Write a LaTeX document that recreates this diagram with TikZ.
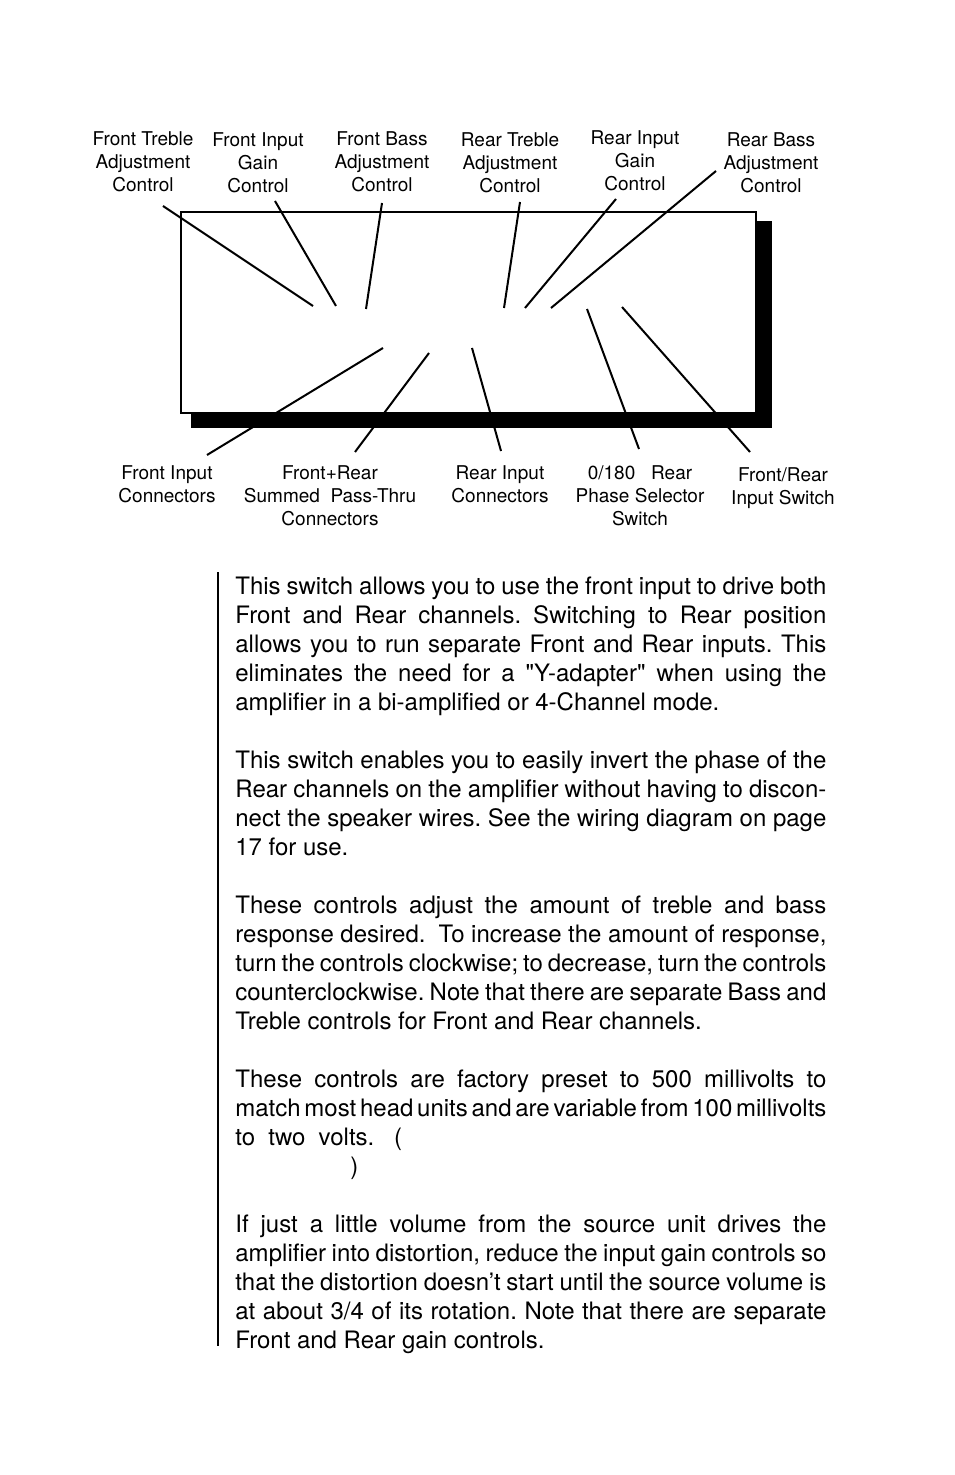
\documentclass[tikz,border=0pt]{standalone}
\usepackage{fontspec}
\setmainfont{TeX Gyre Heros}
\newcommand{\notesetup}{\fontsize{12}{14.5}\selectfont\frenchspacing
  \setlength{\spaceskip}{3.3pt plus 2pt minus 2.2pt}%
  \setlength{\parindent}{0pt}\setlength{\parskip}{14.5pt}}

\begin{document}
\begin{tikzpicture}[x=0.5pt,y=-0.5pt,
    lbl/.style={align=center,inner sep=0pt,anchor=north,font=\fontsize{9.5}{11.5}\selectfont},
    leader/.style={line width=1pt},
    notes/.style={anchor=base west,inner sep=0pt,text width=295.5pt,align=justify,font=\notesetup}]
  \useasboundingbox (0,0) rectangle (954,1475);
  % end panel with its drop shadow
  \fill (191,221) rectangle (772,428);
  \draw[line width=1.2pt,fill=white] (181,212) rectangle (756,413);
  % callout labels
  \foreach \name/\x/\y/\txt in {
      ftreble/143/131/{Front Treble\\Adjustment\\Control},
      fgain/258/132/{Front Input\\Gain\\Control},
      fbass/382/131/{Front Bass\\Adjustment\\Control},
      rtreble/510/132/{Rear Treble\\Adjustment\\Control},
      rgain/635/130/{Rear Input\\Gain\\Control},
      rbass/771/132/{Rear Bass\\Adjustment\\Control},
      finput/167/465/{Front Input\\Connectors},
      fsum/330/465/{Front+Rear\\Summed\ \ Pass-Thru\\Connectors},
      rinput/500/465/{Rear Input\\Connectors},
      phase/640/465/{0/180\ \ \ Rear\\Phase Selector\\Switch},
      fsel/783/467/{Front/Rear\\Input Switch}}
    \node[lbl] (\name) at (\x,\y) {\txt};
  % leader lines
  \foreach \name/\ox/\oy/\ix/\iy in {
      ftreble/163/206/313/306, fgain/275/201/336/306, fbass/382/203/366/309,
      rtreble/520/202/504/308, rgain/616/199/525/308, rbass/716/171/551/308,
      finput/207/455/383/348, fsum/355/452/429/353, rinput/501/451/472/348,
      phase/639/449/587/309, fsel/750/452/622/307}{
    \coordinate (\name-tip) at (\ox,\oy);
    \coordinate (\name-end) at (\ix,\iy);
    \draw[leader] (\name-tip) -- (\name-end);
  }
  % change bar and description text
  \coordinate (bartop) at (218,572);
  \coordinate (barbot) at (218,1346);
  \draw[line width=1.4pt] (bartop) -- (barbot);
  \node[notes] (desc) at (235,594) {%
    This switch allows you to use the front input to drive both\linebreak
    Front and Rear channels. Switching to Rear position\linebreak
    allows you to run separate Front and Rear inputs. This\linebreak
    eliminates the need for a \textquotedbl Y-adapter\textquotedbl\ when using the\linebreak
    amplifier in a bi-amplified or 4-Channel mode.\par
    This switch enables you to easily invert the phase of the\linebreak
    Rear channels on the amplifier without having to discon-\linebreak
    nect the speaker wires. See the wiring diagram on page\linebreak
    17 for use.\par
    These controls adjust the amount of treble and bass\linebreak
    response desired.\ \ To increase the amount of response,\linebreak
    turn the controls clockwise; to decrease, turn the controls\linebreak
    counterclockwise. Note that there are separate Bass and\linebreak
    Treble controls for Front and Rear channels.\par
    These controls are factory preset to 500 millivolts to\linebreak
    match most head units and are variable from 100 millivolts\linebreak
    to\ \ two\ \ volts.\ \ \ (\hfill\break
    \hspace*{57.5pt})\par
    If just a little volume from the source unit drives the\linebreak
    amplifier into distortion, reduce the input gain controls so\linebreak
    that the distortion doesn’t start until the source volume is\linebreak
    at about 3/4 of its rotation. Note that there are separate\linebreak
    Front and Rear gain controls.};
\end{tikzpicture}
\end{document}
